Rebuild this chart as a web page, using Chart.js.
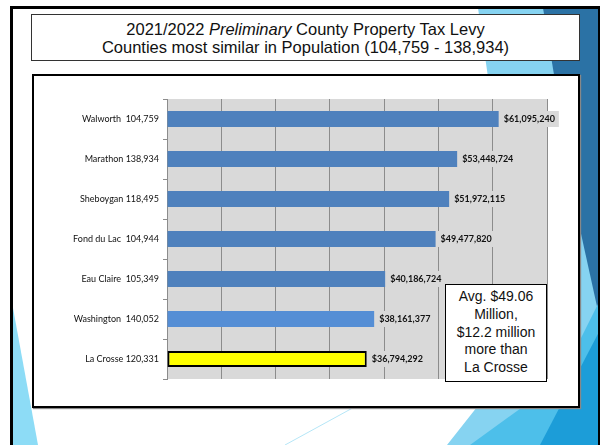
<!DOCTYPE html>
<html>
<head>
<meta charset="utf-8">
<script src="https://cdn.jsdelivr.net/npm/chart.js@4.4.1/dist/chart.umd.min.js"></script>
<style>
  html, body { margin: 0; padding: 0; }
  body { width: 600px; height: 445px; position: relative; overflow: hidden; background: #fff; }
  .abs { position: absolute; }
  #frame { left: 10px; top: 6px; width: 585px; height: 460px; border: 3px solid #000; }
  #titleBox { left: 31px; top: 14px; width: 547px; height: 45px; border: 1px solid #333; background: #fff; }
  .titleLine { left: 31px; width: 549px; height: 17px; text-align: center; color: #111;
    font-family: "Liberation Sans", Arial, sans-serif; font-size: 16.5px; line-height: 17px; white-space: nowrap; }
  #chartBox { left: 32px; top: 74px; width: 544px; height: 330px; border: 2px solid #000; background: #fff;
    box-shadow: 1px 1px 1px #888; }
  #chart { left: 0; top: 0; }
  #note { left: 445px; top: 284px; width: 100px; height: 93px; border: 1px solid #000; background: #fff;
    font-family: "Liberation Sans", Arial, sans-serif; font-size: 14px; line-height: 17.8px;
    text-align: center; padding-top: 3px; color: #111; }
</style>
</head>
<body>
<svg class="abs" width="600" height="445" style="left:0;top:0">
  <polygon points="478,8 600,8 600,445 447,445 530,340 500,160" fill="#86d3f1"/>
  <polygon points="543,8 600,8 600,320 578,220" fill="#2b72a5"/>
  <polygon points="600,300 600,445 470,445 560,380" fill="#4dbfea"/>
  <polygon points="600,330 600,445 540,445" fill="#1c9dd8"/>
  <polygon points="13,308 38,445 13,445" fill="#8ddcf6"/>
  <line x1="285" y1="445" x2="380" y2="393" stroke="#b5e6f7" stroke-width="1"/>
</svg>
<div id="frame" class="abs"></div>
<div id="titleBox" class="abs"></div>
<div class="abs titleLine" style="top:21px">2021/2022 <i>Preliminary</i> County Property Tax Levy</div>
<div class="abs titleLine" style="top:38.5px">Counties most similar in Population (104,759 - 138,934)</div>
<div id="chartBox" class="abs"></div>
<canvas id="chart" class="abs" width="600" height="445"></canvas>
<div id="note" class="abs">Avg. $49.06<br>Million,<br>$12.2 million<br>more than<br>La Crosse</div>
<script>
'use strict';

const counties = ['Walworth  104,759', 'Marathon 138,934', 'Sheboygan 118,495', 'Fond du Lac  104,944',
  'Eau Claire  105,349', 'Washington  140,052', 'La Crosse 120,331'];
const levy = [61095240, 53448724, 51972115, 49477820, 40186724, 38161377, 36794292];
const barColors = ['#4f81bd', '#4f81bd', '#4f81bd', '#4f81bd', '#4f81bd', '#558ed5', '#ffff00'];
const barBorders = [0, 0, 0, 0, 0, 0, 2];

const plotBackground = {
  id: 'plotBackground',
  beforeDraw(chart) {
    const {ctx, chartArea: a} = chart;
    ctx.save();
    ctx.fillStyle = '#d9d9d9';
    ctx.fillRect(a.left, a.top, a.right - a.left, a.bottom - a.top);
    ctx.restore();
  }
};

const valueLabels = {
  id: 'valueLabels',
  afterDatasetsDraw(chart) {
    const ctx = chart.ctx;
    const meta = chart.getDatasetMeta(0);
    ctx.save();
    ctx.font = 'bold 9px Lato, "Open Sans", sans-serif';
    ctx.textBaseline = 'middle';
    meta.data.forEach((bar, i) => {
      const text = '$' + levy[i].toLocaleString('en-US');
      const w = ctx.measureText(text).width;
      ctx.fillStyle = '#d9d9d9';
      ctx.fillRect(bar.x + 1, bar.y - 8, w + 8, 16);
      ctx.fillStyle = '#111';
      ctx.fillText(text, bar.x + 5, bar.y + 0.5);
    });
    ctx.restore();
  }
};

const canvas = document.querySelector('#chart');
const ctx = canvas.getContext('2d');

const config = {
  type: 'bar',
  data: {
    labels: counties,
    datasets: [{
      data: levy,
      backgroundColor: barColors,
      borderColor: '#000',
      borderWidth: barBorders,
      borderSkipped: false,
      barPercentage: 0.4,
      categoryPercentage: 1
    }]
  },
  options: {
    indexAxis: 'y',
    responsive: false,
    animation: false,
    layout: { padding: { left: 0, right: 53, top: 99, bottom: 66 } },
    plugins: { legend: { display: false }, tooltip: { enabled: false } },
    scales: {
      x: {
        min: 0,
        max: 70000000,
        ticks: { display: false, stepSize: 10000000 },
        grid: { color: '#8c8c8c', lineWidth: 1, drawTicks: false },
        border: { display: false }
      },
      y: {
        afterFit(scale) { scale.width = 167; },
        ticks: { color: '#111', padding: 4, font: { family: 'Lato, "Open Sans", sans-serif', size: 9 } },
        grid: { offset: true, drawOnChartArea: false, tickLength: 4, color: '#8c8c8c' },
        border: { display: true, color: '#8c8c8c' }
      }
    }
  },
  plugins: [plotBackground, valueLabels]
};

const chart = new Chart(ctx, config);
</script>
</body>
</html>
